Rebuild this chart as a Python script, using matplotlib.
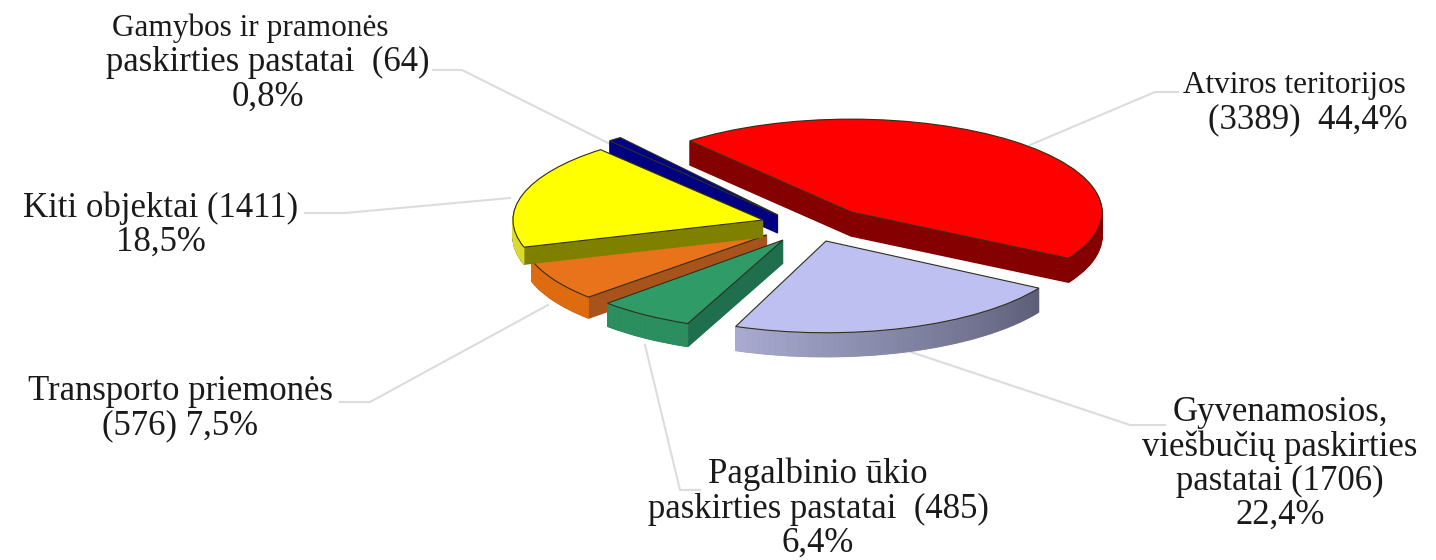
import numpy as np
import matplotlib
matplotlib.use('Agg')
import matplotlib.pyplot as plt
from matplotlib.patches import Wedge, Polygon
from matplotlib.colors import to_rgb

# objects per category, same order as the pie runs clockwise
names = ['Atviros teritorijos', 'Gyvenamosios', 'Pagalbinio', 'Transporto', 'Kiti', 'Gamybos']
counts = [3389, 1706, 485, 576, 1411, 64]

label_texts = ['Atviros teritorijos', '(3389)  44,4%',
               'Gyvenamosios,\nviešbučių paskirties\npastatai (1706)\n22,4%',
               'Pagalbinio ūkio\npaskirties pastatai  (485)\n6,4%',
               'Transporto priemonės\n(576) 7,5%',
               'Kiti objektai (1411)\n18,5%',
               'Gamybos ir pramonės',
               'paskirties pastatai  (64)\n0,8%']
label_pos = [(1294, 85), (1308, 120), (1280, 464), (818, 509), (180, 409), (161, 225), (250, 28), (268, 80)]
label_size = [22.5, 25, 25, 25, 25, 25, 22.5, 25]

leaders = [[(1178, 92), (1155, 92), (1030, 145)],
           [(1165, 425), (1130, 425), (905, 350)],
           [(700, 490), (680, 490), (645, 345)],
           [(340, 402), (370, 402), (548, 305)],
           [(305, 213), (345, 213), (510, 198)],
           [(433, 70), (462, 70), (612, 145)]]

top_colors = ['#ff0000', '#bfc0f2', '#2f9c68', '#e8731a', '#ffff00', '#00008c']
wall_colors = ['#850000', '#9a9cc4', '#1f6e4e', '#a9531c', '#808000', '#000080']
arc_start = ['#850000', '#a8aad0', '#2c8f60', '#e06c10', '#dcdc30', '#000080']
arc_end = ['#850000', '#5c5e78', '#2c8f60', '#e06c10', '#dcdc30', '#000080']

# slice layout in picture pixels
apex = [(851, 212), (826, 241), (783, 240), (767, 235), (763, 220), (778, 215)]
radius = [251, 248, 245, 245, 250, 262]
depth = [24, 24, 23, 21, 17, 18]
spin = [0, -1, -2.5, -3.5, -2.5, -3]
draw_order = [5, 0, 3, 4, 2, 1]
squash = 0.37

W, H = 1436, 560
fig = plt.figure(figsize=(W / 100, H / 100), dpi=100)
ax = fig.add_axes([0, 0, 1, 1])

wedges, _ = ax.pie(counts, startangle=130, counterclock=False, radius=1)
ax.set_aspect('auto')
ax.set_xlim(0, W)
ax.set_ylim(-H / squash, 0)
ax.axis('off')

for i in draw_order:
    w = wedges[i]
    t1, t2 = w.theta1 + spin[i], w.theta2 + spin[i]
    cx, cy = apex[i][0], -apex[i][1] / squash
    r = radius[i]
    zo = 2 + draw_order.index(i)
    # side wall: stack of copies going down
    for d in range(1, depth[i] + 1):
        ax.add_patch(Wedge((cx, cy - d / squash), r, t1, t2, fc=wall_colors[i],
                           ec=wall_colors[i], lw=1, zorder=zo))
    # outer rim gets its own shade
    angs = np.linspace(t1, t2, 60)
    c0, c1 = np.array(to_rgb(arc_start[i])), np.array(to_rgb(arc_end[i]))
    for j in range(len(angs) - 1):
        a0, a1 = np.radians(angs[j]), np.radians(angs[j + 1])
        if np.sin((a0 + a1) / 2) > 0.05:
            continue
        x0, y0 = cx + r * np.cos(a0), cy + r * np.sin(a0)
        x1, y1 = cx + r * np.cos(a1), cy + r * np.sin(a1)
        off = depth[i] / squash
        col = c0 + (c1 - c0) * j / (len(angs) - 2)
        ax.add_patch(Polygon([(x0, y0), (x1, y1), (x1, y1 - off), (x0, y0 - off)],
                             fc=col, ec=col, lw=0.5, zorder=zo))
    w.set_center((cx, cy))
    w.set_radius(r)
    w.set_theta1(t1)
    w.set_theta2(t2)
    w.set_facecolor(top_colors[i])
    w.set_edgecolor('#30301a')
    w.set_linewidth(0.8)
    w.set_zorder(zo + 0.5)

# overlay in pixels for leader lines and labels
over = fig.add_axes([0, 0, 1, 1], zorder=-1)
over.set_xlim(0, W)
over.set_ylim(H, 0)
over.axis('off')
for pts in leaders:
    over.plot([p[0] for p in pts], [p[1] for p in pts], color='#dcdcdc', lw=1.5)

txt = fig.add_axes([0, 0, 1, 1], zorder=5)
txt.set_xlim(0, W)
txt.set_ylim(H, 0)
txt.axis('off')
for s, (x, y), fs in zip(label_texts, label_pos, label_size):
    txt.text(x, y, s, ha='center', va='center', family='Liberation Serif', fontsize=fs,
             color='#1a1a1a', linespacing=1.05, multialignment='center')

ax.patch.set_alpha(0)
fig.savefig('out.png', dpi=100, facecolor='white')
